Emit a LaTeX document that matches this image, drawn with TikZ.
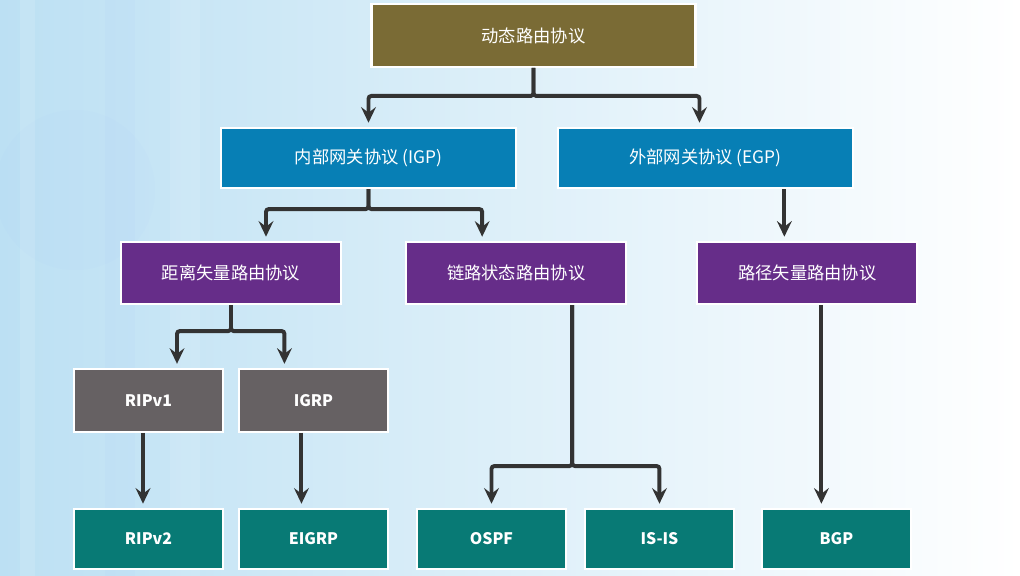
\documentclass[tikz,border=0pt]{standalone}
\usepackage{fontspec}
\setmainfont{Noto Sans CJK SC}
\usepackage{xcolor}
\usepackage{tikz}
\usetikzlibrary{arrows.meta, positioning, shadows}
\definecolor{skyleft}{HTML}{BCE0F3}
\definecolor{rootolive}{HTML}{7A6B35}
\definecolor{gwblue}{HTML}{077FB5}
\definecolor{algpurple}{HTML}{662D89}
\definecolor{oldgray}{HTML}{666163}
\definecolor{newteal}{HTML}{087A75}
\definecolor{linkdark}{HTML}{333333}
\tikzset{
	box/.style={draw=white, line width=1.5pt, inner sep=2pt, align=center, text=white,
		font=\fontsize{12.3}{14}\selectfont,
		drop shadow={opacity=0.3, shadow xshift=0.6pt, shadow yshift=-1pt}},
	root/.style={box, fill=rootolive, minimum width=8.1cm, minimum height=1.57cm},
	family/.style={box, fill=gwblue, minimum width=7.37cm, minimum height=1.5cm},
	kind/.style={box, fill=algpurple, minimum width=5.5cm, minimum height=1.55cm},
	legacy/.style={box, fill=oldgray, minimum width=3.72cm, minimum height=1.57cm,
		font=\fontsize{11.3}{14}\selectfont\bfseries},
	modern/.style={box, fill=newteal, minimum width=3.72cm, minimum height=1.5cm,
		font=\fontsize{11.3}{14}\selectfont\bfseries},
	arr/.style={-{Stealth[length=3.9mm, width=3.7mm, inset=1.4mm]}, line width=2.8pt,
		linkdark, rounded corners=2pt, shorten >=3pt},
}

\begin{document}
\begin{tikzpicture}[x=0.025cm, y=-0.025cm]
	% backdrop
	\useasboundingbox (0,0) rectangle (1020,576);
	\shade[left color=skyleft, right color=white] (0,0) rectangle (1020,576);
	\fill[white, opacity=0.12] (20,0) rectangle (35,576);
	\fill[skyleft!80!blue, opacity=0.06] (105,0) rectangle (135,576);
	\fill[white, opacity=0.10] (170,0) rectangle (200,576);
	\fill[skyleft!80!blue, opacity=0.035] (75,190) circle (80);

	% tree
	\node[root] (top) at (533.5,35.5) {动态路由协议};

	\node[family] (igp) at (368.5,158) {内部网关协议 (IGP)};
	\node[family, right=1cm of igp] (egp) {外部网关协议 (EGP)};

	\node[kind] (dv) at (231,273) {距离矢量路由协议};
	\node[kind, right=1.575cm of dv] (ls) {链路状态路由协议};
	\node[kind, right=1.725cm of ls] (pv) {路径矢量路由协议};

	\node[legacy] (ripv1) at (148.5,400.5) {RIPv1};
	\node[legacy, right=0.35cm of ripv1] (igrp) {IGRP};

	\node[modern] (ripv2) at (148.5,539) {RIPv2};
	\node[modern, right=0.35cm of ripv2] (eigrp) {EIGRP};
	\node[modern] (ospf) at (491.5,539) {OSPF};
	\node[modern, right=0.425cm of ospf] (isis) {IS-IS};
	\node[modern, right=0.65cm of isis] (bgp) {BGP};

	% drop points of the straight links
	\coordinate (pvin) at ([xshift=-0.575cm]pv.north);
	\coordinate (bgpin) at ([xshift=-0.375cm]bgp.north);

	% links
	\draw[arr] (top.south) -- ++(0,28) -| (igp.north);
	\draw[arr] (top.south) -- ++(0,28) -| ([xshift=-0.15cm]egp.north);

	\draw[arr] (igp.south) -- ++(0,20) -| ([xshift=0.875cm]dv.north);
	\draw[arr] (igp.south) -- ++(0,20) -| ([xshift=-0.85cm]ls.north);
	\draw[arr] (egp.south -| pvin) -- (pvin);

	\draw[arr] (dv.south) -- ++(0,26) -| ([xshift=0.7125cm]ripv1.north);
	\draw[arr] (dv.south) -- ++(0,26) -| ([xshift=-0.725cm]igrp.north);
	\draw[arr] ([xshift=-0.1375cm]ripv1.south) -- ([xshift=-0.1375cm]ripv2.north);
	\draw[arr] ([xshift=-0.3cm]igrp.south) -- ([xshift=-0.3cm]eigrp.north);

	\draw[arr] ([xshift=1.4cm]ls.south) -- ++(0,161) -| (ospf.north);
	\draw[arr] ([xshift=1.4cm]ls.south) -- ++(0,161) -| (isis.north);
	\draw[arr] (pv.south -| bgpin) -- (bgpin);
\end{tikzpicture}
\end{document}
